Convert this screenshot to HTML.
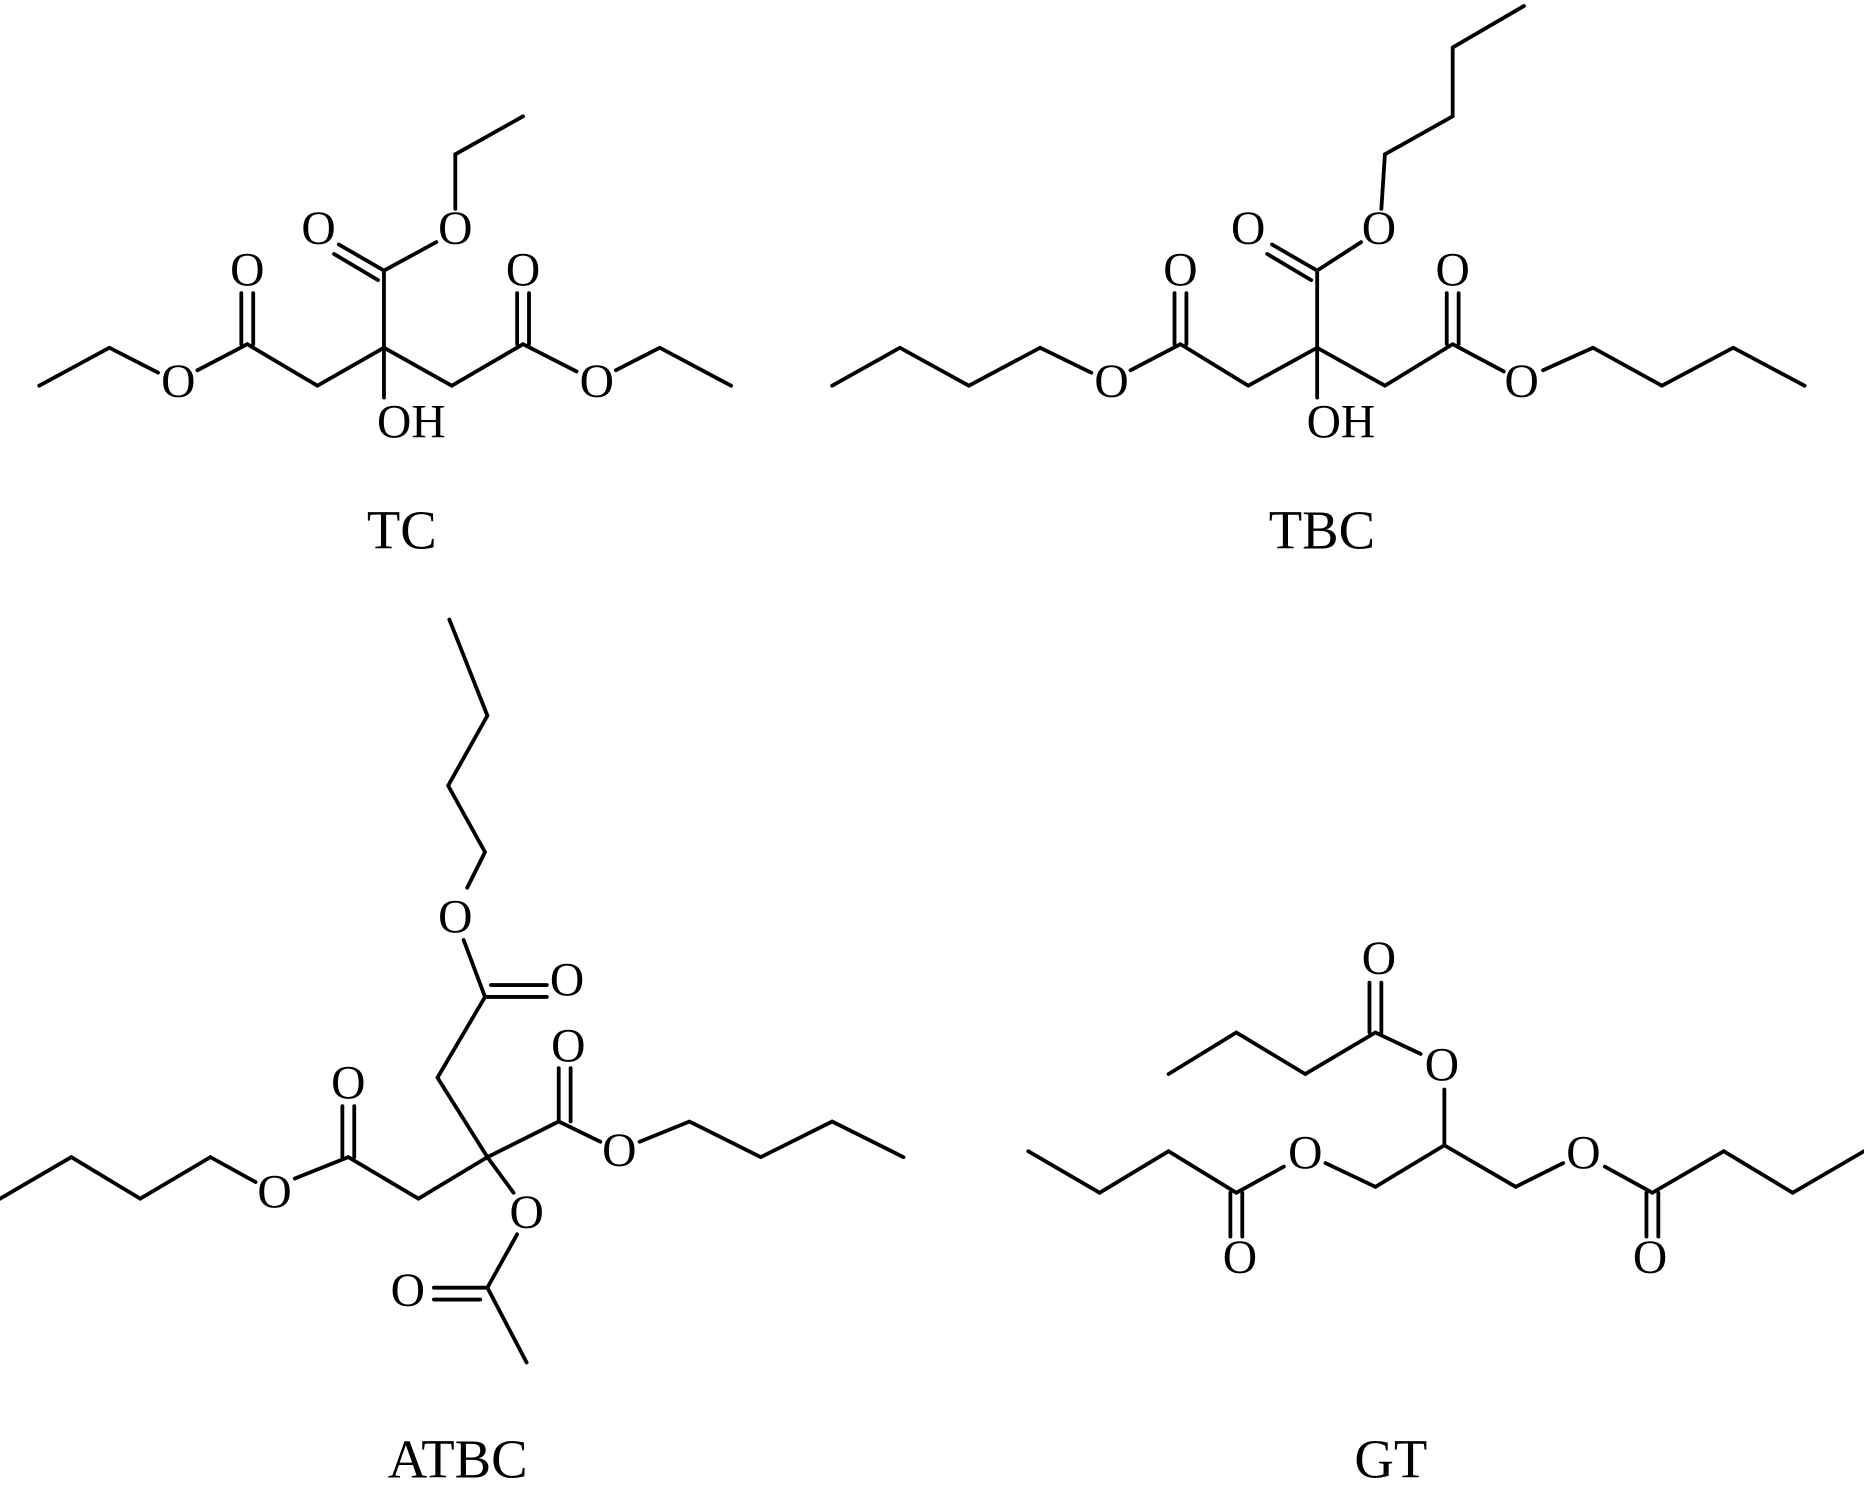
<!DOCTYPE html>
<html><head><meta charset="utf-8"><style>
html,body{margin:0;padding:0;background:#fff;}
svg{display:block;}
text{font-family:"Liberation Serif",serif;fill:#000;}
.a{font-size:40px;text-anchor:middle;dominant-baseline:central;}
.t{font-size:46px;text-anchor:middle;}
</style></head><body>
<svg width="1864" height="1512" viewBox="0 0 1568 1274" preserveAspectRatio="none" xmlns="http://www.w3.org/2000/svg">
<g stroke="#000" stroke-width="3.2" fill="none" stroke-linecap="round">
<!-- TC -->
<polyline points="33,325 92,293 133,314"/>
<polyline points="166,312 208,290 267,325 323,293 380,325 440,290 485,313"/>
<polyline points="518,312 555,293 615,325"/>
<line x1="203" y1="290" x2="203" y2="247"/><line x1="213" y1="290" x2="213" y2="247"/>
<line x1="435" y1="290" x2="435" y2="247"/><line x1="445" y1="290" x2="445" y2="247"/>
<line x1="323" y1="293" x2="323" y2="228"/>
<line x1="323" y1="335" x2="323" y2="293"/>
<line x1="323" y1="228" x2="285" y2="206"/><line x1="318" y1="236" x2="281" y2="214"/>
<line x1="323" y1="228" x2="367" y2="204"/>
<polyline points="383,176 383,130 440,98"/>
<!-- TBC -->
<polyline points="700,325 757,293 815,325 875,293 918,314"/>
<polyline points="951,312 993,290 1050,325 1108,293 1165,325 1222,290 1265,313"/>
<polyline points="1298,312 1340,293 1398,325 1458,293 1518,325"/>
<line x1="988" y1="290" x2="988" y2="247"/><line x1="998" y1="290" x2="998" y2="247"/>
<line x1="1217" y1="290" x2="1217" y2="247"/><line x1="1227" y1="290" x2="1227" y2="247"/>
<line x1="1108" y1="293" x2="1108" y2="228"/>
<line x1="1108" y1="335" x2="1108" y2="293"/>
<line x1="1108" y1="228" x2="1070" y2="206"/><line x1="1103" y1="236" x2="1066" y2="214"/>
<line x1="1108" y1="228" x2="1145" y2="204"/>
<polyline points="1162,176 1165,130 1222,98 1222,40 1282,5"/>
<!-- ATBC -->
<polyline points="0,1010 60,975 118,1010 177,975 215,996"/>
<polyline points="248,993 293,975 352,1010 410,975 470,945 505,962"/>
<polyline points="538,962 580,945 640,975 700,945 760,975"/>
<line x1="288" y1="975" x2="288" y2="932"/><line x1="298" y1="975" x2="298" y2="932"/>
<line x1="470" y1="945" x2="470" y2="900"/><line x1="480" y1="945" x2="480" y2="900"/>
<polyline points="410,975 368,908 368,908 408,840"/>
<line x1="408" y1="840" x2="460" y2="840"/><line x1="413" y1="830" x2="460" y2="830"/>
<line x1="408" y1="840" x2="390" y2="792"/>
<polyline points="393,748 408,718 377,662 410,603 378,522"/>
<line x1="410" y1="975" x2="432" y2="1005"/>
<line x1="435" y1="1040" x2="410" y2="1085"/>
<line x1="410" y1="1085" x2="365" y2="1085"/><line x1="404" y1="1095" x2="365" y2="1095"/>
<line x1="410" y1="1085" x2="443" y2="1148"/>
<!-- GT -->
<polyline points="983,905 1040,870 1098,905 1157,870 1195,888"/>
<line x1="1152" y1="870" x2="1152" y2="828"/><line x1="1162" y1="870" x2="1162" y2="828"/>
<line x1="1215" y1="918" x2="1215" y2="965"/>
<polyline points="1157,1000 1215,965 1275,1000 1315,980"/>
<line x1="1157" y1="1000" x2="1115" y2="980"/>
<polyline points="1080,983 1040,1005 983,970 925,1005 865,970"/>
<line x1="1035" y1="1005" x2="1035" y2="1042"/><line x1="1045" y1="1005" x2="1045" y2="1042"/>
<polyline points="1350,983 1390,1005 1450,970 1508,1005 1568,970"/>
<line x1="1385" y1="1005" x2="1385" y2="1042"/><line x1="1395" y1="1005" x2="1395" y2="1042"/>
</g>
<g class="a">
<text class="a" x="150" y="322">O</text>
<text class="a" x="208" y="228">O</text>
<text class="a" x="268" y="193">O</text>
<text class="a" x="383" y="193">O</text>
<text class="a" x="440" y="228">O</text>
<text class="a" x="502" y="322">O</text>
<text class="a" x="346" y="356">OH</text>
<text class="a" x="935" y="322">O</text>
<text class="a" x="993" y="228">O</text>
<text class="a" x="1050" y="193">O</text>
<text class="a" x="1160" y="193">O</text>
<text class="a" x="1222" y="228">O</text>
<text class="a" x="1280" y="322">O</text>
<text class="a" x="1128" y="356">OH</text>
<text class="a" x="231" y="1005">O</text>
<text class="a" x="293" y="913">O</text>
<text class="a" x="478" y="882">O</text>
<text class="a" x="521" y="970">O</text>
<text class="a" x="477" y="826">O</text>
<text class="a" x="383" y="773">O</text>
<text class="a" x="443" y="1022">O</text>
<text class="a" x="343" y="1088">O</text>
<text class="a" x="1160" y="808">O</text>
<text class="a" x="1213" y="898">O</text>
<text class="a" x="1098" y="972">O</text>
<text class="a" x="1332" y="972">O</text>
<text class="a" x="1043" y="1060">O</text>
<text class="a" x="1388" y="1060">O</text>
</g>
<text class="t" x="338" y="462">TC</text>
<text class="t" x="1112" y="462">TBC</text>
<text class="t" x="385" y="1245">ATBC</text>
<text class="t" x="1170" y="1245">GT</text>
</svg>
</body></html>
